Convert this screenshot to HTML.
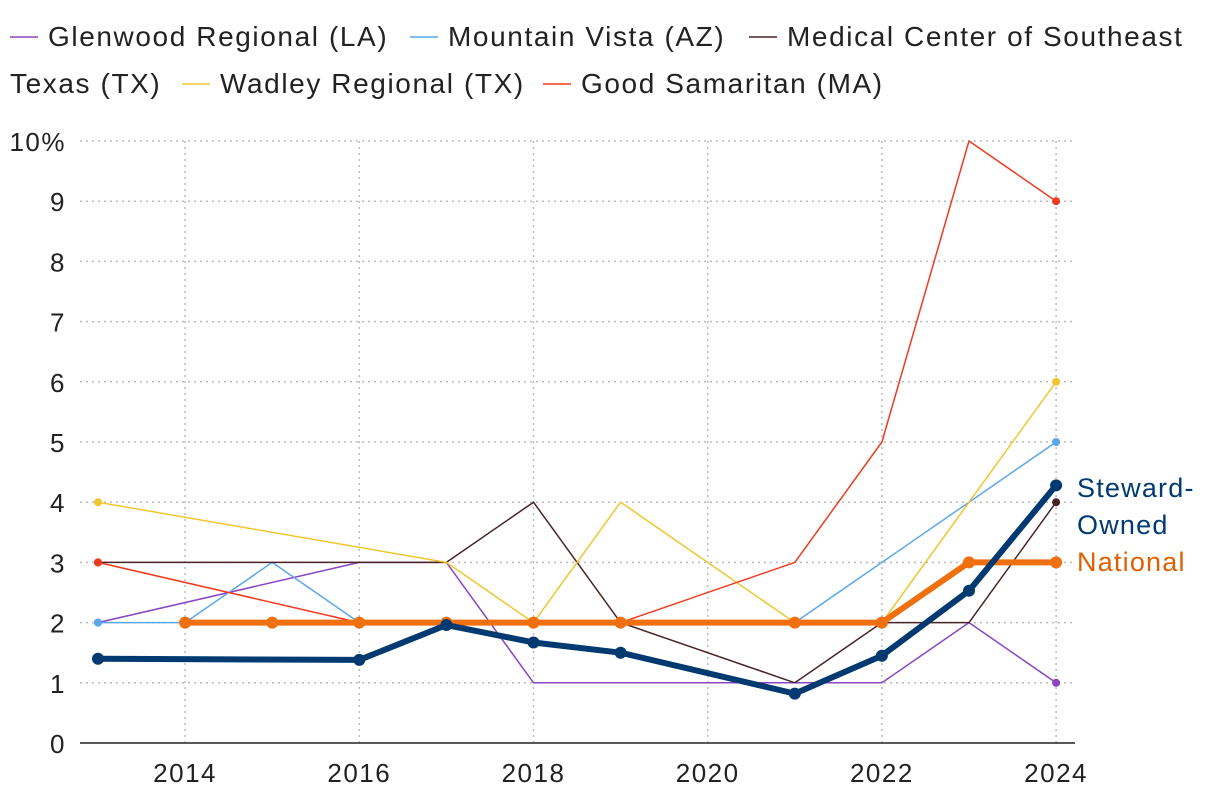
<!DOCTYPE html>
<html><head><meta charset="utf-8">
<style>
html,body{margin:0;padding:0;background:#fff;}
body{width:1220px;height:802px;overflow:hidden;font-family:"Liberation Sans",sans-serif;}
</style></head>
<body>
<svg id="chart" width="1220" height="802" xmlns="http://www.w3.org/2000/svg" font-family="Liberation Sans, sans-serif"></svg>
<script>
const years = [2013,2014,2015,2016,2017,2018,2019,2021,2022,2023,2024];
const glenwood = [2,null,null,3,3,1,1,1,1,2,1];
const mountainVista = [2,2,3,2,2,2,2,2,3,4,5];
const medicalCenter = [3,null,null,null,3,4,2,1,2,2,4];
const wadley = [4,null,null,null,3,2,4,2,2,4,6];
const goodSamaritan = [3,null,null,2,null,null,2,3,5,10,9];
const national = [null,2,2,2,2,2,2,2,2,3,3];
const steward = [1.4,null,null,1.38,1.96,1.67,1.5,0.82,1.45,2.53,4.28];
const yTicks = [0,1,2,3,4,5,6,7,8,9,10];
const xTicks = [2014,2016,2018,2020,2022,2024];

const NS="http://www.w3.org/2000/svg";
const svg=document.getElementById('chart');
const X=y=>98+(y-2013)*87.1;
const Y=v=>743-v*60.2;
function el(t,a,p){const e=document.createElementNS(NS,t);for(const k in a)e.setAttribute(k,a[k]);(p||svg).appendChild(e);return e;}

yTicks.forEach(v=>{
  if(v>0){const g=el('line',{x1:80,x2:1075,y1:Y(v),y2:Y(v),stroke:'#bbb','stroke-width':1.5,'stroke-dasharray':'2,4'});
  
  }
  const t=el('text',{x:66,y:Y(v)+10,'text-anchor':'end','font-size':26,'letter-spacing':1.5,fill:'#222'});
  t.textContent=v===10?'10%':String(v);
  
  
});
xTicks.forEach(yr=>{
  const g=el('line',{x1:X(yr),x2:X(yr),y1:141,y2:743,stroke:'#bbb','stroke-width':1.5,'stroke-dasharray':'2,4'});
  
  
  const t=el('text',{x:X(yr),y:782,'text-anchor':'middle','font-size':26,'letter-spacing':1.5,fill:'#222'});
  t.textContent=String(yr);
  
  
});
const ax=el('line',{x1:80,x2:1075,y1:743,y2:743,stroke:'#222','stroke-width':1.5});



function series(vals,color,w,name,allDots,r){
  const pts=[];vals.forEach((v,i)=>{if(v!==null)pts.push([X(years[i]),Y(v)]);});
  const p=el('polyline',{points:pts.map(p=>p.join(',')).join(' '),fill:'none',stroke:color,'stroke-width':w,'stroke-linejoin':'round'});
  
  
  const dots=allDots?pts:[pts[0],pts[pts.length-1]];
  dots.forEach(d=>{const c=el('circle',{cx:d[0],cy:d[1],r:r,fill:color});
    
    });
}
series(glenwood,'#8a45c0',1.5,'glenwood',false,4);
series(mountainVista,'#5aa8ec',1.5,'mountain-vista',false,4);
series(medicalCenter,'#4a2424',1.5,'medical-center',false,4);
series(wadley,'#f0c630',1.5,'wadley',false,4);
series(goodSamaritan,'#f03a20',1.5,'good-samaritan',false,4);
series(national,'#f07010',6,'national',true,6);
series(steward,'#003a70',6,'steward-owned',true,6);

[['Steward-',497,'#003a70'],['Owned',534,'#003a70'],['National',571,'#e06000']].forEach(([s,y,c])=>{
  const t=el('text',{x:1077,y:y,'font-size':27,'letter-spacing':1.2,fill:c});t.textContent=s;
  
  
});

const leg=[['Glenwood Regional (LA)','#8a45c0',10,46],['Mountain Vista (AZ)','#5aa8ec',410,46],['Medical Center of Southeast','#4a2424',749,46],
['Wadley Regional (TX)','#f0c630',182,93],['Good Samaritan (MA)','#f03a20',543,93]];
leg.forEach(([s,c,x,y])=>{
  const g=el('g',{});
  
  
  el('line',{x1:x,x2:x+28,y1:y-9,y2:y-9,stroke:c,'stroke-width':1.5},g);
  const t=el('text',{x:x+38,y:y,'font-size':28,'letter-spacing':1.6,fill:'#222'},g);t.textContent=s;
});
const tt=el('text',{x:10,y:93,'font-size':28,'letter-spacing':1.6,fill:'#222'});tt.textContent='Texas (TX)';


</script>
</body></html>
